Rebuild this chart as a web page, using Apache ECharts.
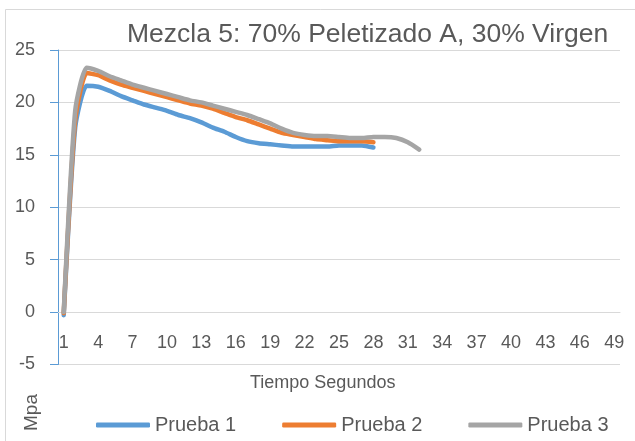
<!DOCTYPE html>
<html>
<head>
<meta charset="utf-8">
<script src="https://cdn.jsdelivr.net/npm/echarts@6/dist/echarts.min.js"></script>
<style>
html,body{margin:0;padding:0;background:#fff;}
#chart{width:635px;height:441px;}
</style>
</head>
<body>
<div id="chart"></div>
<script>
// Categories (seconds)
const categories = [];
for (let i = 1; i <= 49; i++) categories.push(String(i));

const prueba1 = [-0.3, 17.6, 21.6, 21.5, 21.1, 20.6, 20.2, 19.8, 19.5, 19.2, 18.8, 18.5, 18.1, 17.6, 17.2, 16.7, 16.3, 16.1, 16.0, 15.9, 15.8, 15.8, 15.8, 15.8, 15.9, 15.9, 15.9, 15.7];
const prueba2 = [-0.1, 18.3, 22.8, 22.6, 22.1, 21.7, 21.4, 21.1, 20.8, 20.5, 20.2, 19.9, 19.7, 19.4, 19.0, 18.6, 18.3, 17.9, 17.5, 17.1, 16.9, 16.7, 16.5, 16.4, 16.3, 16.3, 16.3, 16.2];
const prueba3 = [0.0, 19.2, 23.3, 23.0, 22.5, 22.1, 21.7, 21.4, 21.1, 20.8, 20.5, 20.2, 20.0, 19.7, 19.4, 19.1, 18.8, 18.4, 18.0, 17.5, 17.1, 16.9, 16.8, 16.8, 16.7, 16.6, 16.6, 16.7, 16.7, 16.6, 16.2, 15.5];

const yTicks = { min: -5, max: 25, interval: 5 };

const txt = '#595959';
const font = 'Liberation Sans, Arial, sans-serif';

const gridTop = 50, gridBottom = 76.5;
const plotH = 441 - gridTop - gridBottom;
// shift the category axis up so it sits on the value 0
const zeroOffset = -plotH * (0 - yTicks.min) / (yTicks.max - yTicks.min);

const chart = echarts.init(document.getElementById('chart'), null, { renderer: 'canvas' });

function mkSeries(name, data, color) {
  return {
    name: name,
    type: 'line',
    data: data,
    smooth: 0.2,
    showSymbol: false,
    symbol: 'none',
    lineStyle: { color: color, width: 4.5, cap: 'round', join: 'round' },
    itemStyle: { color: color }
  };
}

chart.setOption({
  animation: false,
  backgroundColor: '#fff',
  title: {
    text: 'Mezcla 5: 70% Peletizado A, 30% Virgen',
    left: 122,
    top: 16,
    textStyle: { fontFamily: font, fontSize: 26.5, fontWeight: 'normal', color: txt }
  },
  grid: { left: 58, right: 15, top: gridTop, bottom: gridBottom, containLabel: false },
  legend: {
    left: 91,
    top: 410,
    itemWidth: 54,
    itemHeight: 5,
    itemGap: 46,
    icon: 'roundRect',
    textStyle: { fontFamily: font, fontSize: 20, color: txt },
    data: ['Prueba 1', 'Prueba 2', 'Prueba 3']
  },
  xAxis: {
    type: 'category',
    data: categories,
    boundaryGap: true,
    position: 'bottom',
    offset: zeroOffset,
    axisLine: { onZero: false, lineStyle: { color: '#d9d9d9', width: 1 } },
    axisTick: { show: false },
    axisLabel: { interval: 2, margin: 22, fontFamily: font, fontSize: 18, color: txt },
    splitLine: { show: false }
  },
  yAxis: {
    type: 'value',
    min: yTicks.min,
    max: yTicks.max,
    interval: yTicks.interval,
    axisLine: { show: true, onZero: false, lineStyle: { color: '#5b9bd5', width: 1 } },
    axisTick: { show: true, length: 8, lineStyle: { color: '#5b9bd5' } },
    axisLabel: { margin: 23, fontFamily: font, fontSize: 18, color: txt },
    splitLine: { show: true, lineStyle: { color: '#d9d9d9', width: 1 } }
  },
  graphic: [
    { type: 'rect', shape: { x: 5.5, y: 9.5, width: 700, height: 500 }, style: { fill: 'none', stroke: '#d9d9d9', lineWidth: 1 }, silent: true, z: -1 },
    { type: 'text', left: 250, top: 374, style: { text: 'Tiempo Segundos', font: '18px ' + font, fill: txt } },
    { type: 'text', x: 22, y: 431, rotation: Math.PI / 2, style: { text: 'Mpa', font: '19px ' + font, fill: txt } }
  ],
  series: [
    mkSeries('Prueba 1', prueba1, '#5b9bd5'),
    mkSeries('Prueba 2', prueba2, '#ed7d31'),
    mkSeries('Prueba 3', prueba3, '#a5a5a5')
  ]
});
</script>
</body>
</html>
